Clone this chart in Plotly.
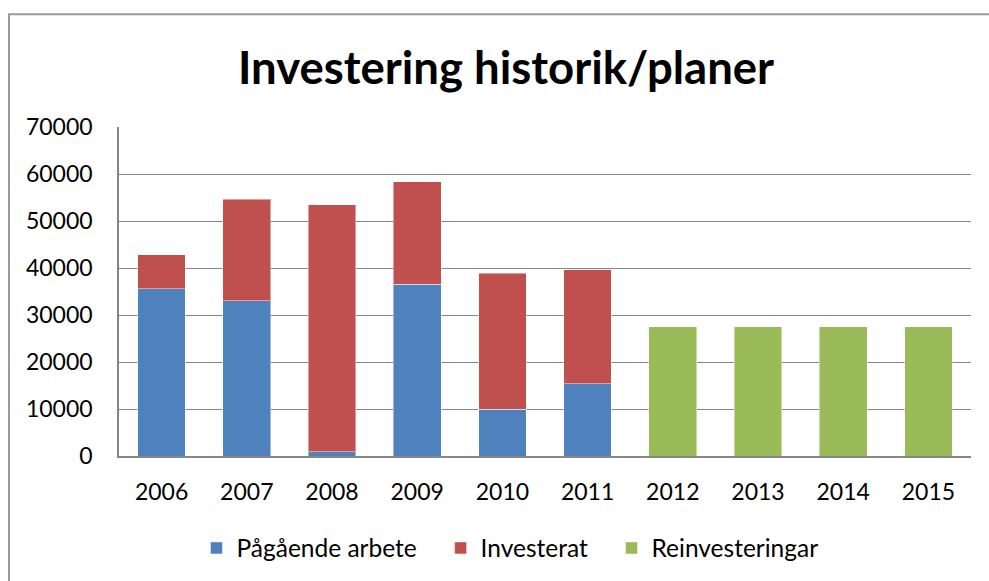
import plotly.graph_objects as go

years = ["2006", "2007", "2008", "2009", "2010", "2011", "2012", "2013", "2014", "2015"]
pagaende = [35600, 33000, 900, 36600, 10000, 15400, None, None, None, None]
investerat = [7200, 21700, 52600, 21800, 28900, 24300, None, None, None, None]
reinvest = [None, None, None, None, None, None, 27500, 27500, 27500, 27500]
y_ticks = [0, 10000, 20000, 30000, 40000, 50000, 60000, 70000]
series_names = ["Pågående arbete", "Investerat", "Reinvesteringar"]

FONT = "Lato"
edge = dict(color="rgba(255,255,255,0.45)", width=1)
pad = "\u00a0" * 3

fig = go.Figure()
fig.add_bar(x=years, y=pagaende, name=series_names[0] + pad, marker=dict(color="#4F81BD", line=edge))
fig.add_bar(x=years, y=investerat, name=series_names[1] + pad, marker=dict(color="#C0504D", line=edge))
fig.add_bar(x=years, y=reinvest, name=series_names[2], marker=dict(color="#9BBB59", line=edge))

L, R, T, B = 119, 971, 127, 457
W, H = R - L, B - T

def px(x):
    return (x - L) / W

def py(y):
    return (B - y) / H

fig.update_layout(
    barmode="stack",
    bargap=0.44,
    width=989, height=581,
    margin=dict(l=L, r=989 - R, t=T, b=581 - B),
    paper_bgcolor="white", plot_bgcolor="white",
    font=dict(family=FONT, size=23, color="black"),
    title=dict(text="<b>Investering historik/planer</b>", x=px(506), xref="paper", xanchor="center",
               y=1 - 68 / 581, yanchor="middle", font=dict(family=FONT, size=45.5, color="black")),
    showlegend=True,
    legend=dict(orientation="h", x=px(510), xanchor="center", y=py(548), yanchor="middle",
                traceorder="normal", font=dict(family=FONT, size=24.5), itemclick=False),
    xaxis=dict(showgrid=False, showline=True, linecolor="#868686", linewidth=1.5,
               ticks="", ticklabelstandoff=15, tickfont=dict(size=23)),
    yaxis=dict(range=[0, 70040], tickvals=y_ticks, tickformat="d", showgrid=True, gridcolor="#868686",
               gridwidth=1.3, showline=True, linecolor="#868686", linewidth=1.5, ticks="",
               ticklabelstandoff=20, zeroline=False, tickfont=dict(size=23)),
    shapes=[dict(type="rect", xref="paper", yref="paper", x0=px(9), x1=px(1000), y0=py(14), y1=py(600),
                 line=dict(color="#9a9a9a", width=2), fillcolor="rgba(0,0,0,0)", layer="below")],
)

fig.write_html("out.html", config={"displayModeBar": False},
               post_script="document.body.style.margin='0px';")
